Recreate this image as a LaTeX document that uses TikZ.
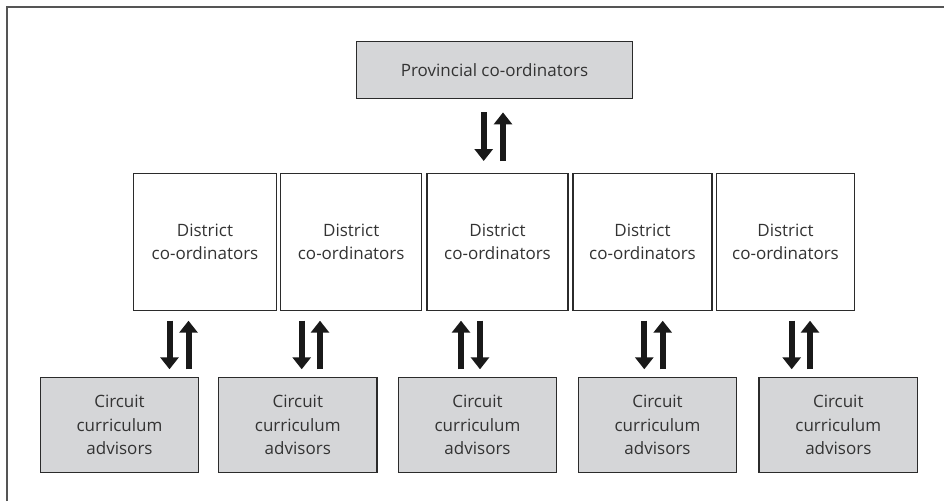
\documentclass[tikz,border=0pt]{standalone}
\usepackage{fontspec}
\setmainfont{Open Sans}
\usetikzlibrary{arrows.meta}
\definecolor{boxline}{HTML}{2B2B2B}
\definecolor{boxfill}{HTML}{D5D6D8}
\definecolor{txt}{HTML}{333333}
\definecolor{framec}{HTML}{555555}
\tikzset{
  base/.style={draw=boxline, line width=1.4pt, text=txt, align=center,
    font=\fontsize{17pt}{23.5pt}\selectfont, inner sep=0pt},
  provbox/.style={base, fill=boxfill, minimum width=275.6pt, minimum height=56.6pt},
  distbox/.style={base, fill=white, minimum height=137.2pt},
  circbox/.style={base, fill=boxfill, minimum width=158.5pt, minimum height=95.4pt},
  fat/.style={line width=6pt, draw=black!90, -{Triangle[width=18pt,length=12pt]}},
}
\begin{document}
\begin{tikzpicture}[x=1pt,y=-1pt]
\useasboundingbox (0,0) rectangle (944,501);
\fill[white] (0,0) rectangle (944,501);
\draw[framec, line width=1.5pt] (7,501) -- (7,7) -- (944,7);

\node[provbox] (p) at (494.5,70) {Provincial co-ordinators};

\node[distbox, minimum width=143.4pt] (d1) at (205,241.9) {District\\co-ordinators};
\node[distbox, minimum width=141pt]   (d2) at (351.2,241.9) {District\\co-ordinators};
\node[distbox, minimum width=141pt]   (d3) at (497.5,241.9) {District\\co-ordinators};
\node[distbox, minimum width=139pt]   (d4) at (642.5,241.9) {District\\co-ordinators};
\node[distbox, minimum width=138pt]   (d5) at (785.5,241.9) {District\\co-ordinators};

\node[circbox] (c1) at (119.5,425) {Circuit\\curriculum\\advisors};
\node[circbox] (c2) at (297.8,425) {Circuit\\curriculum\\advisors};
\node[circbox] (c3) at (477.5,425) {Circuit\\curriculum\\advisors};
\node[circbox] (c4) at (657.5,425) {Circuit\\curriculum\\advisors};
\node[circbox] (c5) at (838.3,425) {Circuit\\curriculum\\advisors};

% provincial <-> districts
\draw[fat, shorten <=13.4pt, shorten >=11.6pt] (p.south -| 483.7,0) -- (d3.north -| 483.7,0);
\draw[fat, shorten <=11.6pt, shorten >=13.4pt] (d3.north -| 503,0) -- (p.south -| 503,0);

% districts <-> circuits
\draw[fat, shorten <=9.5pt, shorten >=7.3pt] (d1.south -| 169.5,0) -- (c1.north -| 169.5,0);
\draw[fat, shorten <=7.3pt, shorten >=9.5pt] (c1.north -| 188.5,0) -- (d1.south -| 188.5,0);

\draw[fat, shorten <=9.5pt, shorten >=7.3pt] (d2.south -| 301.7,0) -- (c2.north -| 301.7,0);
\draw[fat, shorten <=7.3pt, shorten >=9.5pt] (c2.north -| 320,0) -- (d2.south -| 320,0);

\draw[fat, shorten <=7.3pt, shorten >=9.5pt] (c3.north -| 461,0) -- (d3.south -| 461,0);
\draw[fat, shorten <=9.5pt, shorten >=7.3pt] (d3.south -| 480,0) -- (c3.north -| 480,0);

\draw[fat, shorten <=9.5pt, shorten >=7.3pt] (d4.south -| 644.3,0) -- (c4.north -| 644.3,0);
\draw[fat, shorten <=7.3pt, shorten >=9.5pt] (c4.north -| 662.7,0) -- (d4.south -| 662.7,0);

\draw[fat, shorten <=9.5pt, shorten >=7.3pt] (d5.south -| 791.7,0) -- (c5.north -| 791.7,0);
\draw[fat, shorten <=7.3pt, shorten >=9.5pt] (c5.north -| 810,0) -- (d5.south -| 810,0);
\end{tikzpicture}
\end{document}
